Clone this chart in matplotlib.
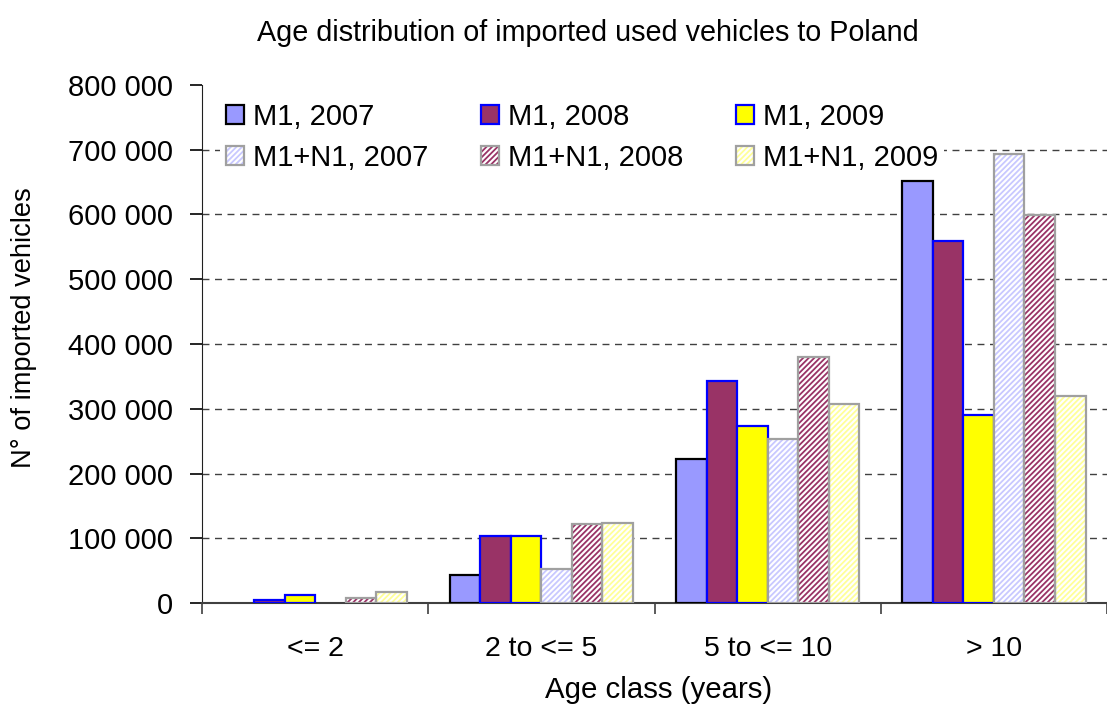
import numpy as np
import matplotlib.pyplot as plt
from matplotlib.ticker import FuncFormatter, MultipleLocator
from matplotlib.legend_handler import HandlerTuple

plt.rcParams['font.family'] = ['Liberation Sans', 'DejaVu Sans']
plt.rcParams['hatch.linewidth'] = 1.3

# data
categories = ['<= 2', '2 to <= 5', '5 to <= 10', '> 10']
m1_2007 = [0, 43000, 222000, 651000]
m1_2008 = [5000, 103000, 343000, 559000]
m1_2009 = [13000, 103000, 273000, 290000]
m1n1_2007 = [0, 52000, 253000, 694000]
m1n1_2008 = [8000, 122000, 380000, 599000]
m1n1_2009 = [17000, 124000, 308000, 320000]

series = [
    ('M1, 2007', m1_2007, '#9999FF', '#000000', None),
    ('M1, 2008', m1_2008, '#993366', '#0000FF', None),
    ('M1, 2009', m1_2009, '#FFFF00', '#0000FF', None),
    ('M1+N1, 2007', m1n1_2007, '#C8C8FF', '#A0A0A0', '//////'),
    ('M1+N1, 2008', m1n1_2008, '#993366', '#A0A0A0', '//////'),
    ('M1+N1, 2009', m1n1_2009, '#FFFF99', '#A0A0A0', '//////'),
]

fig = plt.figure(figsize=(11.07, 7.07), dpi=100)
ax = fig.add_axes([0.1825, 0.147, 0.8175, 0.733])

x = np.arange(len(categories))
w = 0.135
handles = []
for i, (lab, vals, fc, ec, hatch) in enumerate(series):
    pos = x - 2.5 * w + i * w
    vals = np.array(vals, dtype=float)
    keep = vals > 0
    if hatch is None:
        ax.bar(pos[keep], vals[keep], w, color=fc, edgecolor=ec, linewidth=1.6, zorder=3)
        h = plt.Rectangle((0, 0), 1, 1, facecolor=fc, edgecolor=ec, linewidth=1.6)
    else:
        ax.bar(pos[keep], vals[keep], w, color='white', edgecolor=fc, hatch=hatch, linewidth=0, zorder=3)
        ax.bar(pos[keep], vals[keep], w, fill=False, edgecolor=ec, linewidth=1.6, zorder=4)
        h = (plt.Rectangle((0, 0), 1, 1, facecolor='white', edgecolor=fc, hatch=hatch, linewidth=0),
             plt.Rectangle((0, 0), 1, 1, fill=False, edgecolor=ec, linewidth=1.6))
    handles.append((h, lab))

ax.set_xlim(-0.5, 3.435)
ax.set_ylim(0, 800000)
ax.yaxis.set_major_locator(MultipleLocator(100000))
ax.yaxis.set_major_formatter(FuncFormatter(lambda v, p: f'{int(v):,}'.replace(',', ' ')))
# dashed gridlines, none on the top edge
for yv in np.arange(100000, 800000, 100000):
    ax.axhline(yv, linestyle=(0, (5, 4)), color='#404040', linewidth=1.0, zorder=1)

ax.set_xticks(x)
ax.set_xticklabels(categories)
ax.set_xticks(np.arange(-0.5, 3.6, 1), minor=True)
ax.tick_params(axis='x', which='major', length=0, pad=24, labelsize=20.5)
ax.tick_params(axis='x', which='minor', length=8, width=1.2, color='#404040')
ax.tick_params(axis='y', length=9, width=1.2, labelsize=21, pad=12)

for s in ['top', 'right']:
    ax.spines[s].set_visible(False)
ax.spines['left'].set_color('#202020')
ax.spines['bottom'].set_color('#404040')
ax.spines['bottom'].set_linewidth(1.5)

fig.text(0.531, 0.953, 'Age distribution of imported used vehicles to Poland',
         fontsize=20.7, ha='center', va='center')
fig.text(0.595, 1 - 690 / 707, 'Age class (years)', fontsize=21.2, ha='center', va='center')
fig.text(0.0217, 0.536, 'N° of imported vehicles', fontsize=19.6, ha='center', va='center',
         rotation=90)

order = [0, 3, 1, 4, 2, 5]
leg = ax.legend([handles[k][0] for k in order], [handles[k][1] for k in order],
                handler_map={tuple: HandlerTuple(ndivide=1)},
                ncol=3, loc='upper left', bbox_to_anchor=(0.0195, 0.977), fontsize=21,
                frameon=True, fancybox=False, edgecolor='none', framealpha=1,
                handlelength=0.65, handleheight=0.65, handletextpad=0.3,
                columnspacing=1.78, labelspacing=0.45, borderaxespad=0, borderpad=0.2)
leg.set_zorder(5)

fig.savefig('out.png', dpi=100)
